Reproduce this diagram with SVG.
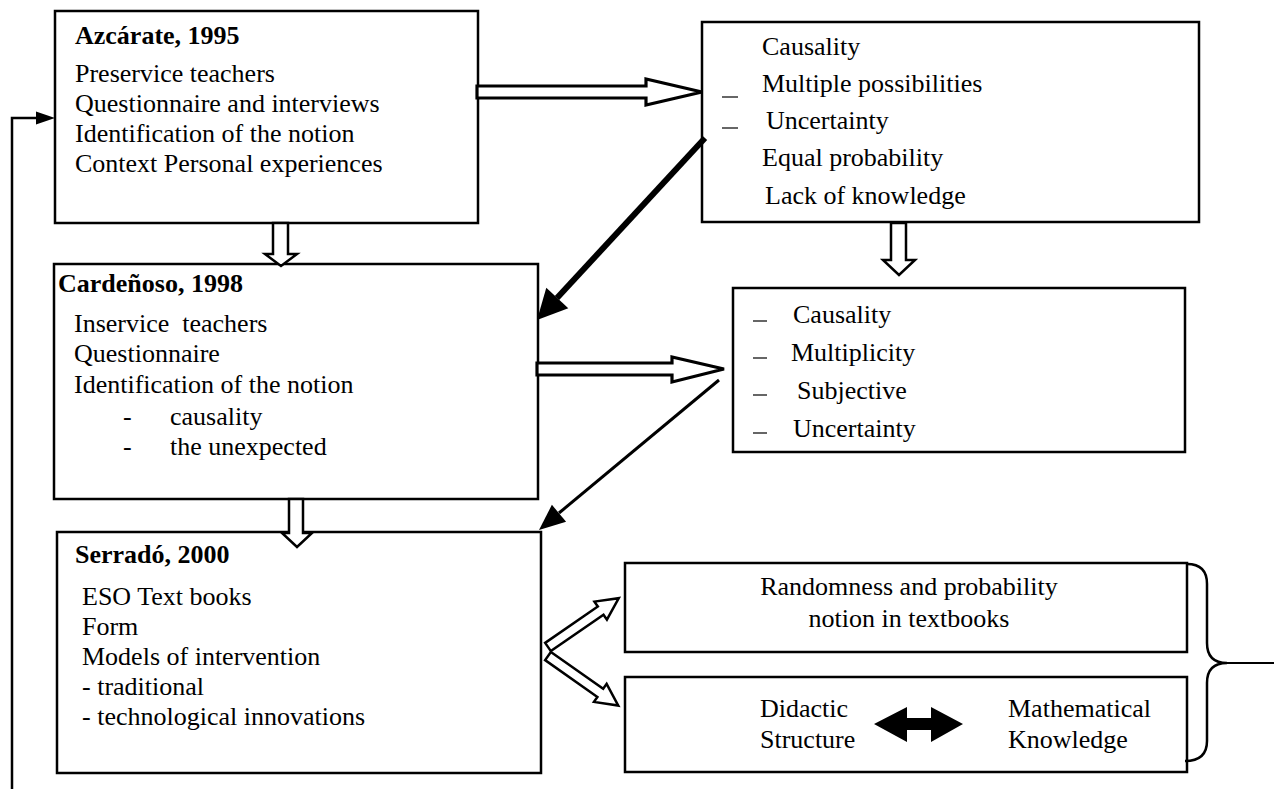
<svg xmlns="http://www.w3.org/2000/svg" width="1274" height="789" viewBox="0 0 1274 789">
<style>
.box{fill:none;stroke:#000;stroke-width:2.5}
.t{font-family:"Liberation Serif","Times New Roman",serif;font-size:26px;fill:#000}
.b{font-weight:bold}
.hol{fill:#fff;stroke:#000;stroke-width:2.5;stroke-linejoin:miter}
.hol3{fill:#fff;stroke:#000;stroke-width:3.2;stroke-linejoin:miter}
.ln{fill:none;stroke:#000}
.dash{stroke:#000;stroke-width:1.2}
</style>
<rect width="1274" height="789" fill="#fff"/>
<g id="azcarate">
  <rect class="box" x="55" y="11" width="423" height="212"/>
  <text class="t b" x="75" y="44">Azcárate, 1995</text>
  <text class="t" x="75" y="82">Preservice teachers</text>
  <text class="t" x="75" y="112">Questionnaire and interviews</text>
  <text class="t" x="75" y="142">Identification of the notion</text>
  <text class="t" x="75" y="172">Context Personal experiences</text>
</g>
<g id="notions1">
  <rect class="box" x="702" y="22" width="497" height="200"/>
  <text class="t" x="762" y="55">Causality</text>
  <line class="dash" x1="722" y1="97" x2="738" y2="97"/>
  <text class="t" x="762" y="92">Multiple possibilities</text>
  <line class="dash" x1="722" y1="128" x2="738" y2="128"/>
  <text class="t" x="766" y="129">Uncertainty</text>
  <text class="t" x="762" y="166">Equal probability</text>
  <text class="t" x="765" y="204">Lack of knowledge</text>
</g>
<g id="cardenoso">
  <rect class="box" x="54" y="264" width="484" height="235"/>
  <text class="t b" x="58" y="292">Cardeñoso, 1998</text>
  <text class="t" x="74" y="332" style="white-space:pre">Inservice  teachers</text>
  <text class="t" x="74" y="362">Questionnaire</text>
  <text class="t" x="74" y="393">Identification of the notion</text>
  <text class="t" x="123" y="425">-</text>
  <text class="t" x="170" y="425">causality</text>
  <text class="t" x="123" y="455">-</text>
  <text class="t" x="170" y="455">the unexpected</text>
</g>
<g id="notions2">
  <rect class="box" x="733" y="288" width="452" height="164"/>
  <line class="dash" x1="753" y1="321" x2="767" y2="321"/>
  <text class="t" x="793" y="323">Causality</text>
  <line class="dash" x1="753" y1="358" x2="767" y2="358"/>
  <text class="t" x="791" y="361">Multiplicity</text>
  <line class="dash" x1="753" y1="395" x2="767" y2="395"/>
  <text class="t" x="797" y="399">Subjective</text>
  <line class="dash" x1="753" y1="433" x2="767" y2="433"/>
  <text class="t" x="793" y="437">Uncertainty</text>
</g>
<g id="serrado">
  <rect class="box" x="57" y="532" width="484" height="241"/>
  <text class="t b" x="75" y="563">Serradó, 2000</text>
  <text class="t" x="82" y="605">ESO Text books</text>
  <text class="t" x="82" y="635">Form</text>
  <text class="t" x="82" y="665">Models of intervention</text>
  <text class="t" x="82" y="695">- traditional</text>
  <text class="t" x="82" y="725">- technological innovations</text>
</g>
<g id="randomness">
  <rect class="box" x="625" y="563" width="562" height="89"/>
  <text class="t" x="909" y="595" text-anchor="middle">Randomness and probability</text>
  <text class="t" x="909" y="627" text-anchor="middle">notion in textbooks</text>
</g>
<g id="didactic">
  <rect class="box" x="625" y="677" width="562" height="95"/>
  <text class="t" x="760" y="717">Didactic</text>
  <text class="t" x="760" y="748">Structure</text>
  <text class="t" x="1008" y="717">Mathematical</text>
  <text class="t" x="1008" y="748">Knowledge</text>
  <polygon points="874,724 907,707 907,718 931,718 931,707 963,724 931,742 931,730 907,730 907,742" fill="#000"/>
</g>
<g id="connectors">
  <polyline class="ln" stroke-width="2.5" points="12,789 12,118 40,118"/>
  <polygon points="55,118 36,111.5 36,124.5" fill="#000"/>
  <polygon class="hol3" points="477,86 646,86 646,79 702,92 646,105 646,98 477,98"/>
  <polygon class="hol3" points="537,363 672,363 672,357 724,369 672,382 672,375 537,375"/>
  <polygon class="hol" points="273,223 288,223 288,254 297,254 281,266 265,254 273,254"/>
  <polygon class="hol" points="891,223 906,223 906,260 915,260 899,275 883,260 891,260"/>
  <polygon class="hol" points="289,499 303,499 303,533 312,533 297,547 282,533 289,533"/>
  <line class="ln" stroke-width="6" x1="705" y1="138" x2="557" y2="298"/>
  <polygon points="537,320 568.3,308.2 546.3,287.8" fill="#000"/>
  <line class="ln" stroke-width="3" x1="719" y1="380" x2="559" y2="513"/>
  <polygon points="539,530 566.1,521.8 551.9,504.8" fill="#000"/>
  <g transform="translate(548,647) rotate(-34.6)">
    <polygon class="hol" points="0,-5 64,-5 64,-11 86,0 64,11 64,5 0,5"/>
  </g>
  <g transform="translate(548,656) rotate(35.2)">
    <polygon class="hol" points="0,-5 64,-5 64,-11 86,0 64,11 64,5 0,5"/>
  </g>
  <path class="ln" stroke-width="2.5" d="M1187,564 Q1207,564 1207,584 L1207,643 Q1207,663 1227,663 Q1207,663 1207,683 L1207,741 Q1207,761 1185,761"/>
  <line class="ln" stroke-width="2" x1="1227" y1="663" x2="1274" y2="663"/>
</g>
</svg>
